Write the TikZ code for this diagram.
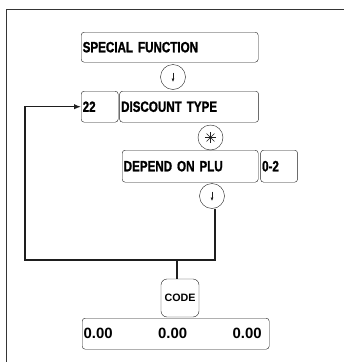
\documentclass[tikz,border=0pt]{standalone}
\usepackage{fontspec}
\usetikzlibrary{arrows.meta, positioning}
\newfontfamily\keyfont[FakeStretch=0.78, FakeBold=1.2]{Liberation Sans Bold}
\newfontfamily\dispfont{Liberation Sans Bold}
\definecolor{ink}{HTML}{1E1E1E}

\begin{document}
\begin{tikzpicture}[x=1pt, y=-1pt,
      box/.style={draw=ink, rounded corners=3pt, text width=#1, align=left,
                  inner xsep=1.5pt, inner ysep=0pt, minimum height=31pt, anchor=north west,
                  font=\keyfont\fontsize{14.9}{16}\selectfont},
      key/.style={circle, draw=ink, minimum size=25pt, inner sep=0pt},
      down/.style={key, path picture={\draw[ink, line width=0.6pt, -{Latex[length=3.5pt,width=3pt]}]
                  ([yshift=4.5pt]path picture bounding box.center) --
                  ([yshift=-5pt]path picture bounding box.center);}},
      aster/.style={key, path picture={\foreach \a in {0,45,90,135}
                  \draw[ink] ([shift={(\a:5.5pt)}]path picture bounding box.center) --
                  ([shift={(\a+180:5.5pt)}]path picture bounding box.center);}},
      flow/.style={ink, line width=1.3pt},
      arr/.style={flow, -{Latex[length=7pt,width=5.5pt]}}]
    \useasboundingbox (0,0) rectangle (344,362);
    \draw[ink!90, line width=1.6pt] (6.5,362) |- (344,9.5);
    \node[box=174pt, minimum height=30pt]      (sf)   at (81,32)  {SPECIAL FUNCTION};
    \node[down]                                (k1)   at (173,77) {};
    \node[box=34pt]                            (n22)  at (81,91)  {22};
    \node[box=136pt, right=1pt of n22]         (dt)   {DISCOUNT TYPE};
    \node[aster]                               (k2)   at (210.5,137.5) {};
    \node[box=133pt, minimum height=32pt]      (dp)   at (122,150) {DEPEND ON PLU};
    \node[box=34pt, minimum height=32pt, right=2pt of dp] (r02) {0-2};
    \node[down]                                (k3)   at (212,196) {};
    \coordinate                                (jn)   at (177,260);
    \coordinate                                (lc)   at (25,260);
    \node[draw=ink, rounded corners=6pt, minimum size=38pt, inner sep=0pt,
          font=\dispfont\fontsize{10.7}{12}\selectfont] (code) at (180,298) {CODE};
    \node[box=184pt, inner xsep=1.5pt, font=\dispfont\fontsize{14.9}{16}\selectfont]
          (disp) at (82,318)
          {\makebox[74.5pt][l]{0.00}\makebox[74.5pt][l]{0.00}0.00};
    \draw[arr] ([xshift=3pt]k3.south) |- (lc) |- (n22.west);
    \draw[flow] (jn) -- (jn |- code.north);
  \end{tikzpicture}
\end{document}
